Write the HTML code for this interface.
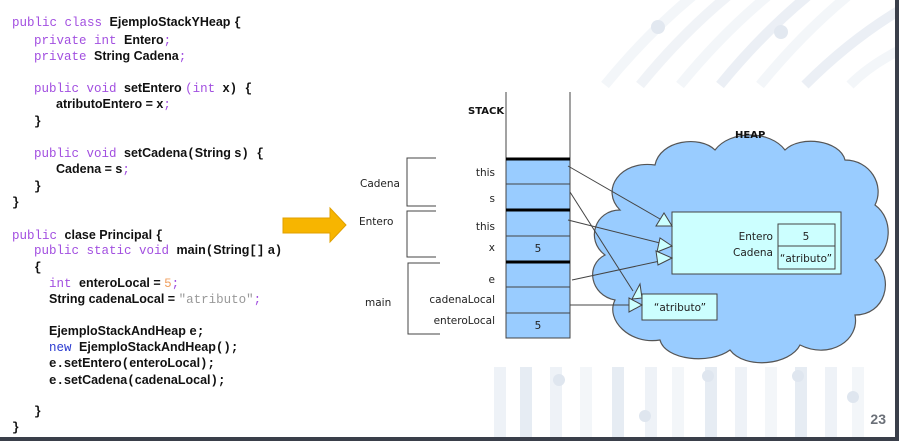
<!DOCTYPE html>
<html><head><meta charset="utf-8"><style>
body{margin:0;width:899px;height:441px;background:#fff;position:relative;overflow:hidden;font-family:"Liberation Sans",sans-serif}
.code{position:absolute;left:0;top:0;font-size:12.5px;color:#111}
.l{position:absolute;white-space:pre;font-weight:bold;line-height:13px}
.k{font-family:"Liberation Mono",monospace;font-weight:normal;color:#a24fe0}
.b{font-family:"Liberation Mono",monospace;font-weight:normal;color:#2a3ad0}
.o{font-family:"Liberation Mono",monospace;font-weight:normal;color:#f0a060}
.s{font-family:"Liberation Mono",monospace;font-weight:normal;color:#999}
.p{font-family:"Liberation Mono",monospace}
svg{position:absolute;left:0;top:0}
</style></head><body>
<svg width="899" height="441" viewBox="0 0 899 441">
<g stroke-linecap="butt" fill="none">
<path d="M605 85 Q650 30 700 -10" stroke="#f3f6f9" stroke-width="10"/>
<path d="M640 85 Q685 30 735 -10" stroke="#f0f3f7" stroke-width="10"/>
<path d="M680 85 Q725 30 775 -10" stroke="#f3f6f9" stroke-width="10"/>
<path d="M720 85 Q765 30 815 -10" stroke="#ebeff5" stroke-width="10"/>
<path d="M760 85 Q805 30 855 -10" stroke="#f3f6f9" stroke-width="10"/>
<path d="M805 85 Q850 40 900 10" stroke="#ebeff5" stroke-width="10"/>
<path d="M850 85 Q870 65 900 50" stroke="#f3f6f9" stroke-width="10"/>
</g>
<g fill="#e2e8f0"><circle cx="658" cy="27" r="7"/><circle cx="781" cy="32" r="7"/></g>
<g fill="#eef2f7">
<rect x="494" y="367" width="12" height="70"/><rect x="520" y="367" width="12" height="70" fill="#e6ecf3"/>
<rect x="550" y="367" width="12" height="70"/><rect x="580" y="367" width="12" height="70" fill="#f3f6f9"/>
<rect x="612" y="367" width="12" height="70" fill="#e6ecf3"/><rect x="645" y="367" width="12" height="70"/>
<rect x="672" y="367" width="12" height="70" fill="#f3f6f9"/><rect x="705" y="367" width="12" height="70" fill="#e6ecf3"/>
<rect x="735" y="367" width="12" height="70"/><rect x="765" y="367" width="12" height="70" fill="#f3f6f9"/>
<rect x="795" y="367" width="12" height="70" fill="#e6ecf3"/><rect x="825" y="367" width="12" height="70"/>
<rect x="852" y="367" width="12" height="70" fill="#f3f6f9"/>
</g>
<g fill="#dfe6ef"><circle cx="559" cy="380" r="6"/><circle cx="645" cy="416" r="6"/><circle cx="708" cy="376" r="6"/><circle cx="798" cy="376" r="6"/><circle cx="853" cy="397" r="6"/></g>
<rect x="895" y="0" width="4" height="441" fill="#3a3f4a"/>
<rect x="0" y="437" width="899" height="4" fill="#3a3f4a"/>
<text x="886" y="424" font-family="Liberation Sans" font-weight="bold" font-size="14" fill="#6b7078" text-anchor="end">23</text>

<path d="M283 218 H330 V208 L346 225 L330 242 V233 H283 Z" fill="#f7b500" stroke="#e0a000" stroke-width="1"/>

<g fill="#99ccff" stroke="#555" stroke-width="1.2">
<path d="M620 210 C600 190 620 160 655 165 C660 140 700 135 715 150 C730 130 770 130 785 150 C800 135 840 140 845 160 C870 160 885 185 875 205 C895 220 890 250 875 260 C895 280 885 315 855 315 C860 340 830 360 800 345 C790 365 745 370 730 350 C710 365 665 360 660 340 C630 345 605 320 615 300 C590 295 585 265 605 255 C585 240 595 210 620 210 Z"/>
</g>
<g stroke="#444" stroke-width="1">
<rect x="506" y="159" width="64" height="179" fill="#99ccff"/>
<line x1="506" y1="92" x2="506" y2="338"/><line x1="570" y1="92" x2="570" y2="338"/>
<line x1="506" y1="184" x2="570" y2="184"/><line x1="506" y1="236" x2="570" y2="236"/>
<line x1="506" y1="287" x2="570" y2="287"/><line x1="506" y1="313" x2="570" y2="313"/>
</g>
<g stroke="#000" stroke-width="3"><line x1="506" y1="159" x2="570" y2="159"/><line x1="506" y1="210" x2="570" y2="210"/><line x1="506" y1="262" x2="570" y2="262"/></g>
<g stroke="#444" stroke-width="1" fill="none">
<path d="M436 158 H407 V206 H436"/><path d="M436 211 H407 V257 H436"/><path d="M440 263 H408 V334 H440"/>
</g>
<g font-family="DejaVu Sans, sans-serif" font-size="10.5" fill="#222">
<text x="495" y="176" text-anchor="end">this</text>
<text x="495" y="202" text-anchor="end">s</text>
<text x="495" y="230" text-anchor="end">this</text>
<text x="495" y="251" text-anchor="end">x</text>
<text x="495" y="283" text-anchor="end">e</text>
<text x="495" y="303" text-anchor="end">cadenaLocal</text>
<text x="495" y="324" text-anchor="end">enteroLocal</text>
<text x="538" y="252" text-anchor="middle">5</text>
<text x="538" y="329" text-anchor="middle">5</text>
<text x="360" y="187">Cadena</text>
<text x="359" y="225">Entero</text>
<text x="365" y="306">main</text>
</g>
<text x="468" y="114" font-family="DejaVu Sans, sans-serif" font-weight="bold" font-size="10" fill="#111">STACK</text>
<text x="735" y="138" font-family="DejaVu Sans, sans-serif" font-weight="bold" font-size="10" fill="#111">HEAP</text>
<g stroke="#444" stroke-width="1">
<rect x="672" y="212" width="169" height="62" fill="#ccffff"/>
<rect x="778" y="224" width="57" height="45" fill="#ccffff"/>
<line x1="778" y1="246" x2="835" y2="246"/>
<rect x="642" y="294" width="75" height="26" fill="#ccffff"/>
</g>
<g font-family="DejaVu Sans, sans-serif" font-size="10.5" fill="#222">
<text x="773" y="240" text-anchor="end">Entero</text>
<text x="773" y="256" text-anchor="end">Cadena</text>
<text x="806" y="240" text-anchor="middle">5</text>
<text x="806" y="262" text-anchor="middle">“atributo”</text>
<text x="680" y="311" text-anchor="middle">“atributo”</text>
</g>
<g stroke="#444" stroke-width="1" fill="none">
<line x1="568" y1="166" x2="660" y2="219"/>
<line x1="570" y1="192" x2="633" y2="291"/>
<line x1="568" y1="220" x2="660" y2="243"/>
<line x1="572" y1="280" x2="660" y2="261"/>
<line x1="570" y1="305" x2="630" y2="305"/>
</g>
<g stroke="#444" stroke-width="1" fill="#ccffff">
<path d="M672 226 L656 226 L664 213 Z"/>
<path d="M642 298 L632 299 L640 284 Z"/>
<path d="M672 246 L657 252 L660 238 Z"/>
<path d="M672 258 L658 265 L656 251 Z"/>
<path d="M642 305 L629 298 L629 312 Z"/>
</g>
</svg>
<div class="code">
<div class="l" style="left:12px;top:16px"><span class="k">public class </span>EjemploStackYHeap <span class="p">{</span></div>
<div class="l" style="left:34px;top:34px"><span class="k">private int </span>Entero<span class="k">;</span></div>
<div class="l" style="left:34px;top:50px"><span class="k">private </span>String Cadena<span class="k">;</span></div>
<div class="l" style="left:34px;top:82px"><span class="k">public void </span>setEntero <span class="k">(int </span>x<span class="p">) {</span></div>
<div class="l" style="left:56px;top:98px">atributoEntero = x<span class="k">;</span></div>
<div class="l" style="left:34px;top:115px"><span class="p">}</span></div>
<div class="l" style="left:34px;top:147px"><span class="k">public void </span>setCadena<span class="p">(</span>String s<span class="p">) {</span></div>
<div class="l" style="left:56px;top:163px">Cadena = s<span class="k">;</span></div>
<div class="l" style="left:34px;top:180px"><span class="p">}</span></div>
<div class="l" style="left:12px;top:196px"><span class="p">}</span></div>
<div class="l" style="left:12px;top:229px"><span class="k">public </span>clase Principal <span class="p">{</span></div>
<div class="l" style="left:34px;top:244px"><span class="k">public static void </span>main<span class="p">(</span>String<span class="p">[]</span> a<span class="p">)</span></div>
<div class="l" style="left:34px;top:261px"><span class="p">{</span></div>
<div class="l" style="left:49px;top:277px"><span class="k">int </span>enteroLocal = <span class="o">5</span><span class="k">;</span></div>
<div class="l" style="left:49px;top:293px">String cadenaLocal = <span class="s">"atributo"</span><span class="k">;</span></div>
<div class="l" style="left:49px;top:325px">EjemploStackAndHeap <span class="p">e;</span></div>
<div class="l" style="left:49px;top:341px"><span class="b">new </span>EjemploStackAndHeap<span class="p">();</span></div>
<div class="l" style="left:49px;top:357px"><span class="p">e.</span>setEntero<span class="p">(</span>enteroLocal<span class="p">);</span></div>
<div class="l" style="left:49px;top:374px"><span class="p">e.</span>setCadena<span class="p">(</span>cadenaLocal<span class="p">);</span></div>
<div class="l" style="left:34px;top:405px"><span class="p">}</span></div>
<div class="l" style="left:12px;top:421px"><span class="p">}</span></div>
</div>
</body></html>
